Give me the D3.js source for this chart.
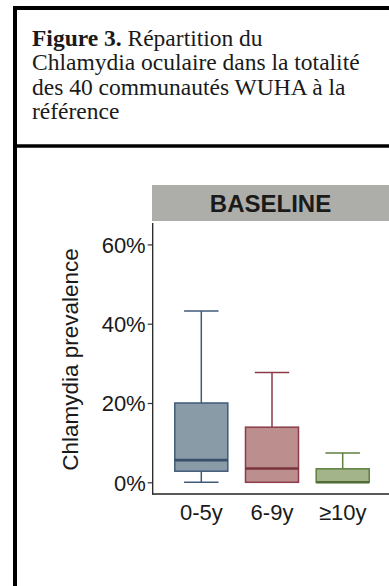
<!DOCTYPE html>
<html>
<head>
<meta charset="utf-8">
<script src="https://cdn.jsdelivr.net/npm/d3@7"></script>
<style>
  html, body { margin: 0; padding: 0; background: #fff; }
  svg { display: block; }
</style>
</head>
<body>
<script>
// ---- data ----
const captionBold = "Figure 3.";
const captionLines = [" Répartition du", "Chlamydia oculaire dans la totalité", "des 40 communautés WUHA à la", "référence"];
const panelTitle = "BASELINE";
const yTitle = "Chlamydia prevalence";
const categories = ["0-5y", "6-9y", "≥10y"];
const whiskerLow = [0, 0, 0];
const q1 = [2.8, 0, 0];
const median = [5.6, 3.5, 0];
const q3 = [20.0, 13.9, 3.4];
const whiskerHigh = [43.2, 27.7, 7.4];
const yTicks = [0, 20, 40, 60];
const fills = ["#8a9ba8", "#bc8f8e", "#a3b48b"];
const strokes = ["#3f5b78", "#8c3b48", "#5f7f3f"];

const W = 389, H = 586;
const svg = d3.select("body").append("svg").attr("width", W).attr("height", H);

// frame
svg.append("line").attr("x1", 15).attr("x2", 15).attr("y1", 6).attr("y2", H)
  .attr("stroke", "#000").attr("stroke-width", 4);
svg.append("line").attr("x1", 13).attr("x2", W).attr("y1", 8).attr("y2", 8)
  .attr("stroke", "#000").attr("stroke-width", 4);
svg.append("line").attr("x1", 13).attr("x2", W).attr("y1", 146).attr("y2", 146)
  .attr("stroke", "#000").attr("stroke-width", 3.5);

// caption
const cap = svg.append("g").attr("font-family", "'Liberation Serif', 'Times New Roman', serif")
  .attr("font-size", 23.5).attr("fill", "#1a1a1a");
const t1 = cap.append("text").attr("x", 32).attr("y", 45.5);
t1.append("tspan").attr("font-weight", "bold").text(captionBold);
t1.append("tspan").text(captionLines[0]);
captionLines.slice(1).forEach((s, i) => {
  cap.append("text").attr("x", 32).attr("y", 70 + i * 24.5).text(s);
});

// chart scales
const x = d3.scaleBand().domain(categories).range([152.7, 391.3])
  .paddingInner(0.25).paddingOuter(0.3125);
const y = d3.scaleLinear().domain([-2.95, 65.4]).range([494, 223]);

// strip
svg.append("rect").attr("x", 152).attr("y", 185).attr("width", W - 152).attr("height", 36)
  .attr("fill", "#adadaa");
svg.append("text").attr("x", 270.5).attr("y", 211.5).attr("text-anchor", "middle")
  .attr("font-family", "'Liberation Sans', Arial, sans-serif").attr("font-weight", "bold")
  .attr("font-size", 24).attr("fill", "#1a1a1a").text(panelTitle);

// boxes
const bw = x.bandwidth();
categories.forEach((c, i) => {
  const g = svg.append("g");
  const cx = x(c) + bw / 2;
  const capW = bw * 0.5 * 1.3;
  // whiskers
  g.append("line").attr("x1", cx).attr("x2", cx).attr("y1", y(q3[i])).attr("y2", y(whiskerHigh[i]))
    .attr("stroke", strokes[i]).attr("stroke-width", 1.5);
  g.append("line").attr("x1", cx).attr("x2", cx).attr("y1", y(q1[i])).attr("y2", y(whiskerLow[i]))
    .attr("stroke", strokes[i]).attr("stroke-width", 1.5);
  g.append("line").attr("x1", cx - capW / 2).attr("x2", cx + capW / 2)
    .attr("y1", y(whiskerHigh[i])).attr("y2", y(whiskerHigh[i]))
    .attr("stroke", strokes[i]).attr("stroke-width", 1.5);
  g.append("line").attr("x1", cx - capW / 2).attr("x2", cx + capW / 2)
    .attr("y1", y(whiskerLow[i])).attr("y2", y(whiskerLow[i]))
    .attr("stroke", strokes[i]).attr("stroke-width", 1.5);
  // box
  g.append("rect").attr("x", x(c)).attr("width", bw)
    .attr("y", y(q3[i])).attr("height", y(q1[i]) - y(q3[i]))
    .attr("fill", fills[i]).attr("stroke", strokes[i]).attr("stroke-width", 1.5);
  // median
  g.append("line").attr("x1", x(c)).attr("x2", x(c) + bw)
    .attr("y1", y(median[i])).attr("y2", y(median[i]))
    .attr("stroke", d3.color(strokes[i]).darker(0.4)).attr("stroke-width", 2.6);
});

// axes
const yAxis = svg.append("g").attr("transform", "translate(152.7,0)")
  .call(d3.axisLeft(y).tickValues(yTicks).tickFormat(d => d + "%").tickSize(5).tickPadding(2));
yAxis.select(".domain").remove();
svg.append("line").attr("x1", 152.7).attr("x2", 152.7).attr("y1", 223).attr("y2", 494.6)
  .attr("stroke", "#222").attr("stroke-width", 1.3);
svg.append("line").attr("x1", 152.1).attr("x2", W).attr("y1", 494).attr("y2", 494)
  .attr("stroke", "#222").attr("stroke-width", 1.3);
yAxis.selectAll(".tick line").attr("stroke", "#333").attr("stroke-width", 1.2);
yAxis.selectAll(".tick text").attr("font-family", "'Liberation Sans', Arial, sans-serif")
  .attr("font-size", 22).attr("fill", "#1a1a1a").attr("dy", "0.36em");

const xAxis = svg.append("g").attr("transform", "translate(0,494)")
  .call(d3.axisBottom(x).tickSize(0).tickPadding(10));
xAxis.select(".domain").remove();
xAxis.selectAll(".tick text").attr("font-family", "'Liberation Sans', Arial, sans-serif")
  .attr("font-size", 22).attr("fill", "#1a1a1a");

// y title
svg.append("text").attr("transform", "translate(77.5,359.5) rotate(-90)")
  .attr("text-anchor", "middle").attr("font-family", "'Liberation Sans', Arial, sans-serif")
  .attr("font-size", 22.5).attr("fill", "#1a1a1a").text(yTitle);
</script>
</body>
</html>
